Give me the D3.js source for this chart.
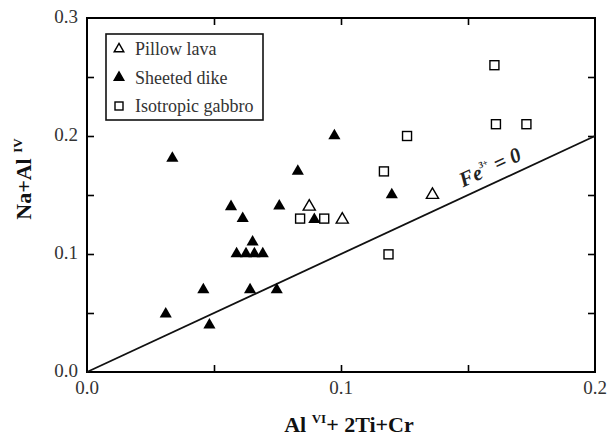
<!DOCTYPE html>
<html>
<head>
<meta charset="utf-8">
<script src="https://cdn.jsdelivr.net/npm/d3@7"></script>
</head>
<body style="margin:0">
<div id="container"></div>
<script>
/* CONSTANTS AND GLOBALS */
const width = 608,
  height = 438,
  margin = { top: 18, bottom: 66, left: 87, right: 13 };

const fontFam = "Liberation Serif";

// data
const pillowX = [0.0875, 0.1005, 0.136];
const pillowY = [0.141, 0.130, 0.151];

const dikeX = [0.031, 0.0336, 0.0458, 0.0482, 0.0567, 0.0589, 0.0613, 0.0626, 0.0642,
  0.0652, 0.0659, 0.0692, 0.0747, 0.0757, 0.083, 0.0895, 0.0974, 0.120];
const dikeY = [0.050, 0.182, 0.0706, 0.0407, 0.141, 0.101, 0.131, 0.101, 0.0706,
  0.111, 0.101, 0.101, 0.0706, 0.1415, 0.171, 0.130, 0.201, 0.151];

const gabbroX = [0.0839, 0.0934, 0.1169, 0.1187, 0.126, 0.1604, 0.161, 0.173];
const gabbroY = [0.130, 0.130, 0.170, 0.0997, 0.200, 0.260, 0.210, 0.210];

const xTicks = [0, 0.1, 0.2];
const yTicks = [0, 0.1, 0.2, 0.3];
const minorX = [0.05, 0.1, 0.15];
const minorY = [0.05, 0.1, 0.15, 0.2, 0.25];
const refLine = [0, 0.2];   // Fe3+ = 0 line, y = x

const legendNames = ["Pillow lava", "Sheeted dike", "Isotropic gabbro"];

/* SCALES */
const xScale = d3.scaleLinear()
  .domain([0, 0.2])
  .range([margin.left, width - margin.right]);

const yScale = d3.scaleLinear()
  .domain([0, 0.3])
  .range([height - margin.bottom, margin.top]);

const svg = d3.select("#container")
  .append("svg")
  .attr("width", width)
  .attr("height", height);

const tickCol = "#333";

// helper so every label gets the same face
function label(sel, size) {
  return sel.style("font-family", `"${fontFam}"`).style("font-size", size + "px");
}

// axes - ticks point inward, labels drawn separately
const x0 = xScale(0), x1 = xScale(0.2), y0 = yScale(0), y1 = yScale(0.3);

const noDomain = g => g.select(".domain").remove();
svg.append("g")
  .attr("transform", `translate(0,${y0})`)
  .call(d3.axisBottom(xScale).tickValues(minorX).tickSize(-7).tickFormat(""))
  .call(noDomain);
svg.append("g")
  .attr("transform", `translate(0,${y1})`)
  .call(d3.axisTop(xScale).tickValues(minorX).tickSize(-7).tickFormat(""))
  .call(noDomain);
svg.append("g")
  .attr("transform", `translate(${x0},0)`)
  .call(d3.axisLeft(yScale).tickValues(minorY).tickSize(-7).tickFormat(""))
  .call(noDomain);
svg.append("g")
  .attr("transform", `translate(${x1},0)`)
  .call(d3.axisRight(yScale).tickValues(minorY).tickSize(-7).tickFormat(""))
  .call(noDomain);
svg.selectAll(".tick line").attr("stroke", "#000").attr("stroke-width", 1.6);

// frame
svg.append("rect")
  .attr("x", x0).attr("y", y1)
  .attr("width", x1 - x0).attr("height", y0 - y1)
  .attr("fill", "none")
  .attr("stroke", "#000")
  .attr("stroke-width", 2);

// tick labels
svg.selectAll(".xlab")
  .data(xTicks)
  .join("text")
  .attr("x", d => xScale(d))
  .attr("y", y0 + 22)
  .attr("text-anchor", "middle")
  .attr("fill", tickCol)
  .call(label, 19)
  .text(d3.format(".1f"));

svg.selectAll(".ylab")
  .data(yTicks)
  .join("text")
  .attr("x", x0 - 9)
  .attr("y", d => yScale(d) + 5)
  .attr("text-anchor", "end")
  .attr("fill", tickCol)
  .call(label, 19)
  .text(d3.format(".1f"));

// axis titles
const xt = svg.append("text")
  .attr("x", 349)
  .attr("y", 432)
  .attr("text-anchor", "middle")
  .attr("font-weight", "bold")
  .attr("fill", "#111")
  .call(label, 22);
xt.append("tspan").text("Al ");
xt.append("tspan").style("font-size", "13px").attr("dy", -9).text("VI");
xt.append("tspan").attr("dy", 9).text("+ 2Ti+Cr");

const yt = svg.append("text")
  .attr("transform", `translate(31,179) rotate(-90)`)
  .attr("text-anchor", "middle")
  .attr("font-weight", "bold")
  .attr("fill", "#111")
  .call(label, 22);
yt.append("tspan").text("Na+Al ");
yt.append("tspan").style("font-size", "13px").attr("dy", -9).text("IV");

// reference line
svg.append("line")
  .attr("x1", xScale(refLine[0])).attr("y1", yScale(refLine[0]))
  .attr("x2", xScale(refLine[1])).attr("y2", yScale(refLine[1]))
  .attr("stroke", "#111")
  .attr("stroke-width", 1.8);

const ang = Math.atan2(yScale(0.2) - yScale(0), xScale(0.2) - xScale(0)) * 180 / Math.PI;
const fe = svg.append("text")
  .attr("transform", `translate(${xScale(0.1495)},${yScale(0.1495)}) rotate(${ang})`)
  .attr("y", -9)
  .attr("font-weight", "bold")
  .attr("font-style", "italic")
  .attr("fill", "#222")
  .call(label, 21);
fe.append("tspan").text("Fe");
fe.append("tspan").style("font-size", "9px").attr("dy", -10).text("3+");
fe.append("tspan").attr("dy", 10).text(" = 0");

// symbols
const tri = d3.symbol().type(d3.symbolTriangle).size(64);
const triSmall = d3.symbol().type(d3.symbolTriangle).size(40);

const pillow = pillowX.map((x, i) => ({ x, y: pillowY[i] }));
const dike = dikeX.map((x, i) => ({ x, y: dikeY[i] }));
const gabbro = gabbroX.map((x, i) => ({ x, y: gabbroY[i] }));

svg.selectAll(".dike")
  .data(dike)
  .join("path")
  .attr("transform", d => `translate(${xScale(d.x)},${yScale(d.y) + 1})`)
  .attr("d", tri)
  .attr("fill", "#000");

svg.selectAll(".pillow")
  .data(pillow)
  .join("path")
  .attr("transform", d => `translate(${xScale(d.x)},${yScale(d.y) + 1})`)
  .attr("d", tri)
  .attr("fill", "#fff")
  .attr("stroke", "#000")
  .attr("stroke-width", 1.4);

svg.selectAll(".gabbro")
  .data(gabbro)
  .join("rect")
  .attr("x", d => xScale(d.x) - 4.5)
  .attr("y", d => yScale(d.y) - 4.5)
  .attr("width", 9)
  .attr("height", 9)
  .attr("fill", "#fff")
  .attr("stroke", "#000")
  .attr("stroke-width", 1.4);

// legend
const legend = svg.append("g");
legend.append("rect")
  .attr("x", 106).attr("y", 34)
  .attr("width", 157).attr("height", 86)
  .attr("fill", "#fff")
  .attr("stroke", "#111")
  .attr("stroke-width", 1.6);

const rows = legend.selectAll("g.row")
  .data(legendNames)
  .join("g")
  .attr("transform", (d, i) => `translate(119,${49 + i * 28.5})`);

rows.each(function (d, i) {
  const g = d3.select(this);
  if (i < 2) {
    g.append("path")
      .attr("d", triSmall)
      .attr("fill", i === 1 ? "#000" : "none")
      .attr("stroke", "#000")
      .attr("stroke-width", 1.4);
  } else {
    g.append("rect")
      .attr("x", -4).attr("y", -4)
      .attr("width", 8).attr("height", 8)
      .attr("fill", "none")
      .attr("stroke", "#000")
      .attr("stroke-width", 1.4);
  }
});

rows.append("text")
  .attr("x", 16)
  .attr("y", 6)
  .attr("fill", tickCol)
  .call(label, 18)
  .text(d => d);
</script>
</body>
</html>
